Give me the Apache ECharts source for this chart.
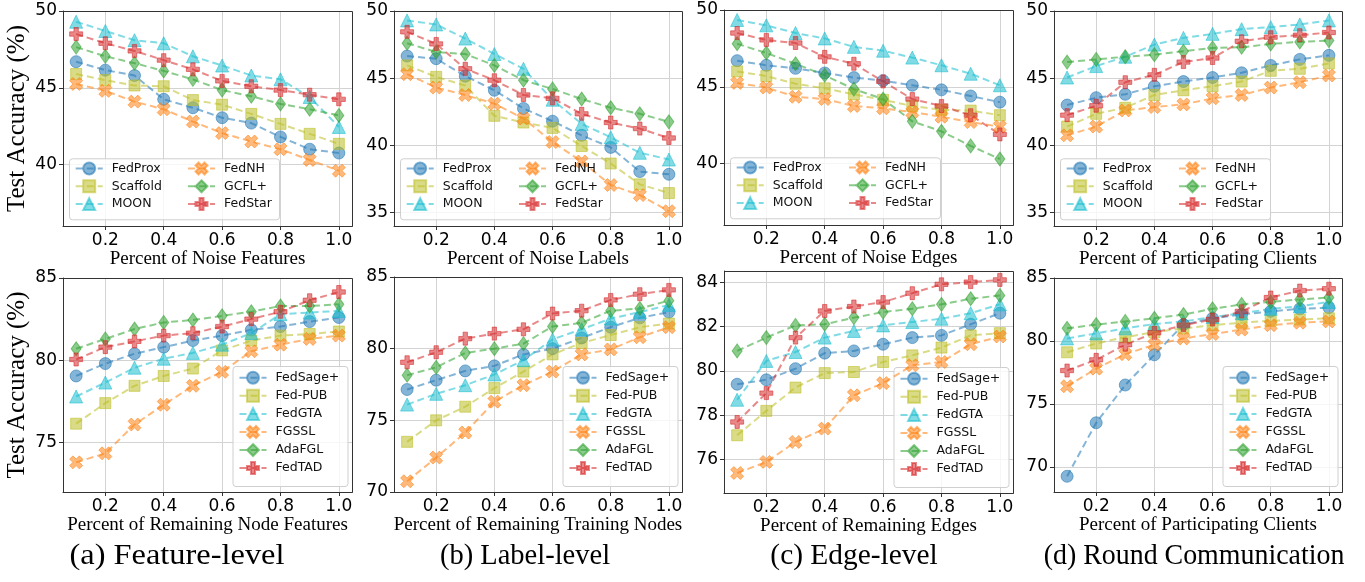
<!DOCTYPE html>
<html><head><meta charset="utf-8">
<script src="https://cdn.jsdelivr.net/npm/echarts@6/dist/echarts.min.js"></script>
<style>html,body{margin:0;padding:0;background:#fff}#c{width:1365px;height:582px}</style>
</head><body><div id="c"></div>
<script>
// ---------- data ----------
const xValues = [0.1, 0.2, 0.3, 0.4, 0.5, 0.6, 0.7, 0.8, 0.9, 1.0];
const xTickValues = [0.2, 0.4, 0.6, 0.8, 1.0];
const topMethods = ['FedProx', 'Scaffold', 'MOON', 'FedNH', 'GCFL+', 'FedStar'];
const bottomMethods = ['FedSage+', 'Fed-PUB', 'FedGTA', 'FGSSL', 'AdaFGL', 'FedTAD'];
const xAxisTitles = ['Percent of Noise Features', 'Percent of Noise Labels', 'Percent of Noise Edges', 'Percent of Participating Clients',
  'Percent of Remaining Node Features', 'Percent of Remaining Training Nodes', 'Percent of Remaining Edges', 'Percent of Participating Clients'];
const captions = ['(a) Feature-level', '(b) Label-level', '(c) Edge-level', '(d) Round Communication'];
const yTitle = 'Test Accuracy (%)';
const yRanges = [[36, 50], [34, 50], [36, 50], [34, 50], [72, 85], [70, 85], [74.5, 84.5], [68, 85]];
const yTickValues = [[40, 45, 50], [35, 40, 45, 50], [40, 45, 50], [35, 40, 45, 50], [75, 80, 85], [70, 75, 80, 85], [76, 78, 80, 82, 84], [70, 75, 80, 85]];
const yTickSteps = [5, 5, 5, 5, 5, 5, 2, 5];

// rows: FedProx, Scaffold, MOON, FedNH, GCFL+, FedStar
const noiseFeatures = [
  [46.7, 46.15, 45.8, 44.25, 43.7, 43.05, 42.7, 41.8, 41.0, 40.75],
  [45.9, 45.5, 45.15, 45.1, 44.2, 43.9, 43.3, 42.65, 42.0, 41.35],
  [49.3, 48.7, 48.1, 47.9, 47.05, 46.45, 45.8, 45.55, 44.4, 42.45],
  [45.25, 44.8, 44.1, 43.6, 42.8, 42.05, 41.5, 41.0, 40.3, 39.6],
  [47.65, 47.05, 46.6, 46.1, 45.55, 44.85, 44.45, 43.95, 43.6, 43.2],
  [48.5, 47.9, 47.4, 46.8, 46.2, 45.45, 45.1, 44.85, 44.55, 44.25]
];
const noiseLabels = [
  [46.65, 46.45, 45.15, 44.1, 42.75, 41.8, 40.75, 39.85, 38.05, 37.85],
  [45.95, 45.1, 44.45, 42.2, 41.7, 41.3, 39.95, 38.65, 37.1, 36.45],
  [49.3, 49.0, 47.95, 46.8, 45.7, 43.4, 41.6, 40.6, 39.45, 38.95],
  [45.3, 44.3, 43.75, 43.1, 42.0, 40.25, 38.8, 37.05, 36.3, 35.1],
  [47.6, 46.95, 46.8, 45.95, 44.85, 44.2, 43.45, 42.8, 42.35, 41.75],
  [48.45, 47.55, 45.7, 44.85, 43.75, 43.5, 42.35, 41.7, 41.25, 40.55]
];
const noiseEdges = [
  [46.7, 46.4, 46.2, 45.9, 45.6, 45.4, 45.1, 44.8, 44.4, 44.0],
  [46.0, 45.7, 45.2, 44.9, 44.5, 44.15, 43.75, 43.5, 43.45, 43.15],
  [49.35, 49.0, 48.5, 48.15, 47.6, 47.35, 46.9, 46.4, 45.85, 45.1],
  [45.25, 44.95, 44.35, 44.2, 43.75, 43.6, 43.35, 43.05, 42.7, 42.4],
  [47.8, 47.2, 46.5, 45.75, 44.85, 44.2, 42.75, 42.1, 41.15, 40.3],
  [48.5, 48.05, 47.85, 46.95, 46.5, 45.35, 44.2, 43.75, 43.15, 41.9]
];
const clientsTop = [
  [43.0, 43.55, 43.8, 44.4, 44.75, 45.05, 45.4, 45.95, 46.4, 46.7],
  [41.4, 42.35, 42.8, 43.75, 44.1, 44.4, 44.75, 45.55, 45.7, 46.1],
  [45.05, 45.9, 46.6, 47.5, 48.0, 48.3, 48.65, 48.8, 49.0, 49.3],
  [40.75, 41.4, 42.6, 42.85, 43.05, 43.5, 43.75, 44.3, 44.7, 45.2],
  [46.2, 46.4, 46.6, 46.75, 47.0, 47.25, 47.3, 47.55, 47.7, 47.8],
  [42.25, 42.95, 44.7, 45.25, 46.2, 46.5, 47.75, 48.05, 48.2, 48.4]
];
// rows: FedSage+, Fed-PUB, FedGTA, FGSSL, AdaFGL, FedTAD
const remainingFeatures = [
  [79.05, 79.8, 80.4, 80.8, 81.2, 81.5, 81.85, 82.05, 82.35, 82.6],
  [76.15, 77.4, 78.45, 79.05, 79.5, 80.6, 81.2, 81.5, 81.6, 81.75],
  [77.8, 78.65, 79.55, 80.1, 80.45, 80.95, 81.65, 82.8, 82.9, 83.0],
  [73.8, 74.35, 76.1, 77.3, 78.45, 79.3, 80.55, 80.95, 81.3, 81.5],
  [80.7, 81.3, 81.9, 82.3, 82.45, 82.7, 82.95, 83.3, 83.3, 83.4],
  [80.05, 80.8, 81.15, 81.5, 81.65, 82.05, 82.5, 82.95, 83.65, 84.15]
];
const remainingNodes = [
  [77.15, 77.8, 78.45, 78.8, 79.6, 80.0, 80.75, 81.5, 82.15, 82.55],
  [73.5, 75.0, 75.95, 77.25, 78.4, 79.6, 80.4, 80.95, 81.5, 81.75],
  [76.1, 76.85, 77.45, 78.2, 79.2, 80.65, 81.35, 82.1, 82.55, 83.05],
  [70.75, 72.4, 74.15, 76.3, 77.45, 78.4, 79.6, 79.95, 80.8, 81.5],
  [78.15, 78.7, 79.7, 80.0, 80.35, 81.55, 81.8, 82.65, 82.8, 83.35],
  [79.05, 79.75, 80.7, 81.05, 81.35, 82.45, 82.65, 83.4, 83.8, 84.1]
];
const remainingEdges = [
  [79.4, 79.6, 80.1, 80.8, 80.9, 81.2, 81.5, 81.6, 82.1, 82.6],
  [77.1, 78.2, 79.25, 79.9, 79.95, 80.4, 80.7, 81.05, 81.6, 81.7],
  [78.7, 80.45, 80.85, 81.5, 81.8, 82.05, 82.2, 82.35, 82.6, 83.0],
  [75.4, 75.9, 76.8, 77.4, 78.9, 79.45, 80.25, 80.4, 81.2, 81.55],
  [80.9, 81.5, 82.05, 82.1, 82.4, 82.65, 82.8, 83.0, 83.25, 83.4],
  [77.7, 79.0, 81.5, 82.7, 82.9, 83.1, 83.5, 83.9, 84.0, 84.1]
];
const clientsBottom = [
  [69.25, 73.5, 76.5, 78.9, 81.3, 81.8, 82.1, 82.35, 82.55, 82.65],
  [79.1, 79.8, 80.3, 80.7, 81.0, 81.25, 81.45, 81.6, 81.7, 81.8],
  [80.2, 80.6, 81.0, 81.35, 81.55, 81.9, 82.2, 82.55, 82.75, 83.1],
  [76.4, 77.8, 78.95, 79.7, 80.2, 80.55, 80.9, 81.25, 81.45, 81.55],
  [81.0, 81.3, 81.55, 81.8, 82.1, 82.55, 82.9, 83.1, 83.3, 83.45],
  [77.65, 78.5, 79.7, 80.65, 81.25, 81.7, 82.35, 83.45, 84.0, 84.15]
];
const panelData = [noiseFeatures, noiseLabels, noiseEdges, clientsTop, remainingFeatures, remainingNodes, remainingEdges, clientsBottom];

// ---------- style / layout ----------
const colors = ['#1f77b4', '#bcbd22', '#17becf', '#ff7f0e', '#2ca02c', '#d62728'];
const X_PATH = 'path://M1,0L2,1L3,0L4,1L3,2L4,3L3,4L2,3L1,4L0,3L1,2L0,1Z';
const P_PATH = 'path://M2,0L4,0L4,2L6,2L6,4L4,4L4,6L2,6L2,4L0,4L0,2L2,2Z';
const symbols = ['circle', 'rect', 'triangle', X_PATH, 'diamond', P_PATH];
const symbolSizes = [12, 11, 13, 13, [10, 14], 13];
const gridBoxes = [[63, 11, 289, 215], [394, 11, 288, 215], [724, 10, 289, 215], [1054, 11, 288, 215],
  [63, 278, 289, 214], [394, 277, 288, 215], [724, 271, 289, 222], [1054, 278, 288, 214]];
const captionX = [177, 525, 854, 1194];
const captionScaleX = [1.08, 0.95, 0.98, 0.93];
const captionY = 556;
const SANS = 'DejaVu Sans';
const SERIF = 'Liberation Serif';

const grid = [], xAxis = [], yAxis = [], series = [], legend = [], graphic = [];

gridBoxes.forEach((g, i) => {
  const [gl, gt, gw, gh] = g;
  grid.push({ left: gl, top: gt, width: gw, height: gh, containLabel: false });
  xAxis.push({
    type: 'value', gridIndex: i, min: 0.055, max: 1.045, minInterval: 0.2, maxInterval: 0.2,
    name: xAxisTitles[i], nameLocation: 'middle', nameGap: 23,
    nameTextStyle: { fontFamily: SERIF, fontSize: 19, color: '#000' },
    axisLine: { show: true, lineStyle: { color: '#333', width: 1 } },
    axisTick: { show: true, length: 4, lineStyle: { color: '#333' }, customValues: xTickValues },
    axisLabel: { fontFamily: SANS, fontSize: 17, color: '#000', margin: 6, customValues: xTickValues,
      formatter: v => v.toFixed(1) },
    splitLine: { show: true, lineStyle: { color: '#d3d3d3', width: 1 } }
  });
  const yr = yRanges[i];
  yAxis.push({
    type: 'value', gridIndex: i, min: yr[0], max: yr[1], minInterval: yTickSteps[i], maxInterval: yTickSteps[i],
    name: (i === 0 || i === 4) ? yTitle : '', nameLocation: 'middle', nameGap: 33,
    nameTextStyle: { fontFamily: SERIF, fontSize: 25, color: '#000' },
    axisLine: { show: true, lineStyle: { color: '#333', width: 1 } },
    axisTick: { show: true, length: 4, lineStyle: { color: '#333' }, customValues: yTickValues[i] },
    axisLabel: { fontFamily: SANS, fontSize: 17, color: '#000', margin: 6, customValues: yTickValues[i],
      formatter: v => String(v) },
    splitLine: { show: true, lineStyle: { color: '#d3d3d3', width: 1 } }
  });
  const names = i < 4 ? topMethods : bottomMethods;
  panelData[i].forEach((vals, k) => {
    series.push({
      type: 'line', name: names[k], xAxisIndex: i, yAxisIndex: i,
      data: xValues.map((x, j) => [x, vals[j]]),
      symbol: symbols[k], symbolSize: symbolSizes[k], showSymbol: true,
      lineStyle: { color: colors[k], width: 2, type: [7, 4], opacity: 0.55 },
      itemStyle: { color: colors[k], borderColor: colors[k], borderWidth: 1, opacity: 0.55 },
      emphasis: { disabled: true }, animation: false
    });
  });
  // plot frame
  graphic.push({ type: 'rect', z: 1, silent: true,
    shape: { x: gl + 0.5, y: gt + 0.5, width: gw, height: gh },
    style: { fill: null, stroke: '#333', lineWidth: 1 } });
  const legendText = { fontFamily: SANS, fontSize: 12.5, color: '#111', padding: [0, 0, 0, 4] };
  if (i < 4) {
    const fw = 210, fh = 61;
    const fl = gl + 6, ft = gt + gh - 6.7 - fh;
    graphic.push({ type: 'rect', z: 3, silent: true,
      shape: { x: fl + 0.5, y: ft + 0.5, width: fw, height: fh, r: 3 },
      style: { fill: 'rgba(255,255,255,0.8)', stroke: '#cfcfcf', lineWidth: 1 } });
    [[0, 1, 2], [3, 4, 5]].forEach((col, c) => {
      legend.push({ orient: 'vertical', left: fl + (c === 0 ? 5.7 : 118), top: ft + 3.2, padding: 0,
        itemWidth: 27, itemHeight: 15, itemGap: 3.8, data: col.map(k => names[k]),
        textStyle: legendText, selectedMode: false, z: 4 });
    });
  } else {
    const fw = 115, fh = 120;
    const fl = gl + gw - 4.5 - fw, ft = gt + gh - 6 - fh;
    graphic.push({ type: 'rect', z: 3, silent: true,
      shape: { x: fl + 0.5, y: ft + 0.5, width: fw, height: fh, r: 3 },
      style: { fill: 'rgba(255,255,255,0.8)', stroke: '#cfcfcf', lineWidth: 1 } });
    legend.push({ orient: 'vertical', left: fl + 6, top: ft + 4.8, padding: 0,
      itemWidth: 27, itemHeight: 15, itemGap: 4.06, data: names,
      textStyle: legendText, selectedMode: false, z: 4 });
  }
});

captions.forEach((t, i) => {
  graphic.push({ type: 'text', x: captionX[i], y: captionY, z: 5, silent: true, scaleX: captionScaleX[i],
    style: { text: t, fontFamily: SERIF, fontSize: 30, fill: '#000', align: 'center', verticalAlign: 'middle',
      textAlign: 'center', textVerticalAlign: 'middle' } });
});

const chart = echarts.init(document.getElementById('c'), null, { renderer: 'canvas' });
chart.setOption({ animation: false, backgroundColor: '#fff', grid, xAxis, yAxis, series, legend, graphic });
</script></body></html>
